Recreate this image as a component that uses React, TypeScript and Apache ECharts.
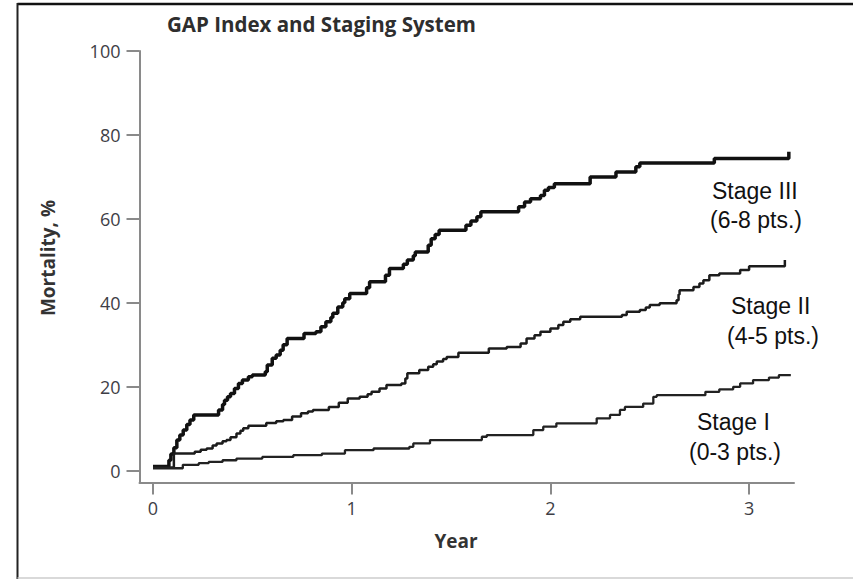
import React, { useEffect, useRef } from "react";
import * as echarts from "echarts";

const titleText = "GAP Index and Staging System";
const xAxisName = "Year";
const yAxisName = "Mortality, %";
const xTicks = [0, 1, 2, 3];
const yTicks = [0, 20, 40, 60, 80, 100];

// [year, mortality %] — value holds from this year onward (Kaplan–Meier style steps)
const stageIII: number[][] = [
  [0, 1], [0.08, 2.5], [0.09, 4], [0.105, 5.5], [0.12, 7.3], [0.135, 8.5], [0.152, 9.7],
  [0.17, 11], [0.186, 12.1], [0.205, 13.3], [0.33, 14.5], [0.35, 15.8], [0.36, 16.8],
  [0.375, 17.6], [0.39, 18.4], [0.41, 19.6], [0.43, 20.8], [0.45, 21.6], [0.48, 22.4],
  [0.5, 22.8], [0.565, 23.6], [0.575, 25.2], [0.6, 26.8], [0.62, 27.6], [0.64, 28.7],
  [0.655, 30], [0.675, 31.5], [0.76, 32.7], [0.82, 33.1], [0.845, 34.3], [0.87, 35.5],
  [0.895, 36.5], [0.905, 37.5], [0.93, 39], [0.955, 40], [0.965, 41], [0.99, 42.2],
  [1.075, 43.6], [1.09, 45], [1.17, 46.6], [1.19, 48.2], [1.26, 49.2], [1.28, 50.2],
  [1.31, 51.2], [1.32, 52.1], [1.385, 53.7], [1.4, 55.3], [1.42, 56.3], [1.44, 57.3],
  [1.575, 58.5], [1.6, 59.5], [1.63, 60.5], [1.65, 61.7], [1.84, 62.9], [1.87, 64],
  [1.9, 64.8], [1.95, 65.6], [1.97, 66.8], [1.99, 67.5], [2.02, 68.4], [2.2, 70],
  [2.33, 71.2], [2.43, 72.4], [2.45, 73.3], [2.825, 74.4], [3.2, 74.4], [3.2, 76],
];

const stageII: number[][] = [
  [0, 0.8], [0.105, 4.1], [0.21, 4.5], [0.24, 5.0], [0.27, 5.3], [0.3, 6], [0.32, 6.5],
  [0.35, 7], [0.37, 7.3], [0.39, 8], [0.42, 8.9], [0.44, 9.5], [0.454, 10.1], [0.48, 10.7],
  [0.57, 11.4], [0.62, 11.8], [0.656, 12.1], [0.7, 12.9], [0.745, 13.7], [0.78, 14.1],
  [0.805, 14.5], [0.885, 15.2], [0.935, 16.2], [0.98, 17.2], [1.04, 17.6], [1.08, 18.2],
  [1.1, 18.8], [1.14, 19.6], [1.175, 20.4], [1.25, 20.8], [1.27, 22], [1.28, 23.2],
  [1.34, 24], [1.385, 24.8], [1.41, 25.4], [1.428, 26], [1.46, 26.6], [1.478, 27.1],
  [1.537, 28.1], [1.69, 29.1], [1.78, 29.5], [1.85, 30.3], [1.88, 31.5], [1.92, 32.3],
  [1.95, 33.1], [2.0, 33.9], [2.04, 34.7], [2.065, 35.5], [2.1, 36.1], [2.15, 36.7],
  [2.36, 37.1], [2.384, 37.9], [2.45, 38.3], [2.48, 38.9], [2.5, 39.5], [2.55, 39.9],
  [2.635, 40.6], [2.645, 42], [2.65, 43], [2.72, 43.8], [2.75, 44.6], [2.77, 45.4],
  [2.8, 46.6], [2.85, 47], [2.955, 47.8], [3.0, 48.7], [3.18, 48.7], [3.18, 50.2],
];

const stageI: number[][] = [
  [0, 0.6], [0.15, 1.4], [0.23, 1.8], [0.28, 2.1], [0.35, 2.5], [0.42, 2.9], [0.55, 3.3],
  [0.706, 3.7], [0.85, 4.1], [0.966, 4.9], [1.11, 5.3], [1.29, 5.7], [1.31, 6.5],
  [1.394, 7.3], [1.655, 8.1], [1.68, 8.5], [1.914, 9.7], [1.964, 10.5], [2.03, 11.3],
  [2.233, 12.5], [2.3, 13.3], [2.35, 14.5], [2.375, 15.2], [2.467, 16], [2.518, 17.6],
  [2.535, 18], [2.78, 18.8], [2.85, 19.4], [2.92, 20], [2.955, 20.8], [3.02, 21.6],
  [3.1, 22.2], [3.15, 22.8], [3.21, 22.8],
];

const seriesNames = ["Stage III", "Stage II", "Stage I"];
const stageLabelLines = [
  ["Stage III", "(6-8 pts.)"],
  ["Stage II", "(4-5 pts.)"],
  ["Stage I", "(0-3 pts.)"],
];

const tickFont = { fontSize: 18, fontFamily: "'Open Sans', sans-serif", color: "#3e3e46" };
const axisColor = "#8a8a8a";

function txt(text: string, x: number, y: number, font: string, fill: string, align = "left", rotation = 0) {
  return {
    type: "text",
    x,
    y,
    rotation,
    style: {
      text,
      font,
      fill,
      align,
      verticalAlign: "middle",
      textAlign: align,
      textVerticalAlign: "middle",
    },
    silent: true,
  };
}

export default function App() {
  const ref = useRef<HTMLDivElement>(null);
  useEffect(() => {
    const chart = echarts.init(ref.current!, null, { renderer: "svg" });
    const labelFont = "23px 'Liberation Sans', Arial, sans-serif";
    const boldFont = "bold 19px 'Open Sans', sans-serif";
    chart.setOption({
      animation: false,
      backgroundColor: "#ffffff",
      grid: { left: 139.5, right: 59, top: 51, bottom: 96.5, containLabel: false },
      xAxis: {
        type: "value",
        min: -0.068,
        max: 3.226,
        axisLine: { show: true, onZero: false, lineStyle: { color: axisColor, width: 2 } },
        axisTick: { show: true, length: 12, customValues: xTicks, lineStyle: { color: axisColor, width: 2 } },
        axisLabel: { customValues: xTicks, margin: 16, ...tickFont },
        splitLine: { show: false },
      },
      yAxis: {
        type: "value",
        min: -2.8,
        max: 100,
        axisLine: { show: true, onZero: false, lineStyle: { color: axisColor, width: 2 } },
        axisTick: { show: true, length: 13, customValues: yTicks, lineStyle: { color: axisColor, width: 2 } },
        axisLabel: { customValues: yTicks, margin: 19, ...tickFont },
        splitLine: { show: false },
      },
      series: [
        { name: seriesNames[0], type: "line", step: "end", data: stageIII, symbol: "none", lineStyle: { color: "#111", width: 3.5 } },
        { name: seriesNames[1], type: "line", step: "end", data: stageII, symbol: "none", lineStyle: { color: "#1c1c1c", width: 2.5 } },
        { name: seriesNames[2], type: "line", step: "end", data: stageI, symbol: "none", lineStyle: { color: "#222", width: 2.3 } },
      ],
      graphic: [
        { type: "line", shape: { x1: 17.5, y1: 4, x2: 853, y2: 4 }, style: { stroke: "#111", lineWidth: 2.5 }, silent: true },
        { type: "line", shape: { x1: 17.5, y1: 3, x2: 17.5, y2: 579 }, style: { stroke: "#222", lineWidth: 2 }, silent: true },
        { type: "line", shape: { x1: 17.5, y1: 578, x2: 853, y2: 578 }, style: { stroke: "#cccccc", lineWidth: 1.5 }, silent: true },
        txt(titleText, 167, 23.7, "bold 20.5px 'Open Sans', sans-serif", "#2e2e2e"),
        txt(yAxisName, 48, 258, boldFont, "#333", "center", Math.PI / 2),
        txt(xAxisName, 456, 541, boldFont, "#333", "center"),
        txt(stageLabelLines[0][0], 712, 191, labelFont, "#111"),
        txt(stageLabelLines[0][1], 710, 220, labelFont, "#111"),
        txt(stageLabelLines[1][0], 731, 306, labelFont, "#111"),
        txt(stageLabelLines[1][1], 727, 336, labelFont, "#111"),
        txt(stageLabelLines[2][0], 697, 422, labelFont, "#111"),
        txt(stageLabelLines[2][1], 689, 452, labelFont, "#111"),
      ],
    });
    return () => chart.dispose();
  }, []);
  return (
    <div
      ref={ref}
      style={{ position: "fixed", left: 0, top: 0, width: 853, height: 579, background: "#fff" }}
    />
  );
}
